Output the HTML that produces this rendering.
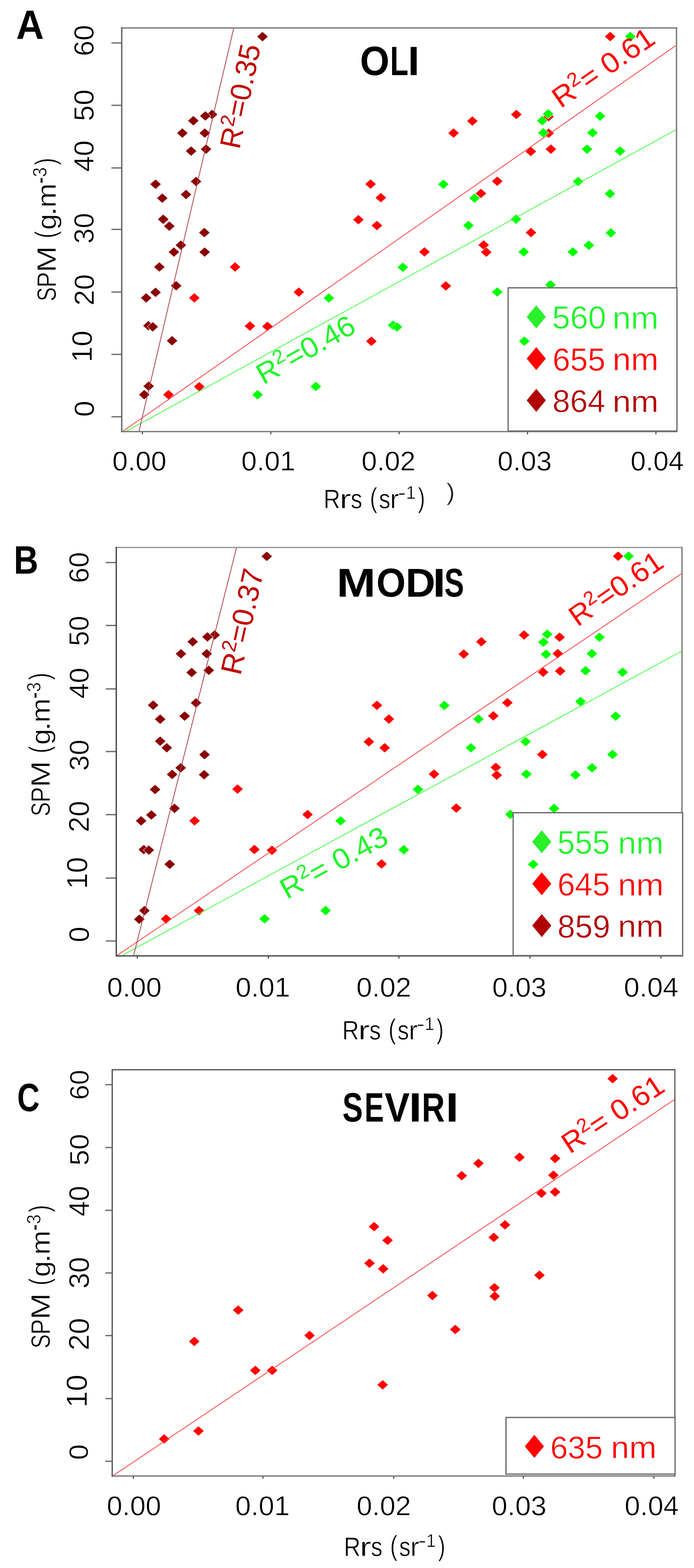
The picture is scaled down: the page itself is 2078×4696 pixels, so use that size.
<!DOCTYPE html>
<html><head><meta charset="utf-8"><title>SPM vs Rrs</title>
<style>html,body{margin:0;padding:0;background:#fff;}svg{display:block;}text{font-family:"Liberation Sans",Arial,sans-serif;}</style>
</head><body>
<svg width="2078" height="4696" viewBox="0 0 2078 4696">
<rect width="2078" height="4696" fill="#fff"/>
<line x1="333.5" y1="128.6" x2="364.5" y2="128.6" stroke="#6e6e6e" stroke-width="3.9"/><line x1="333.5" y1="315.4" x2="364.5" y2="315.4" stroke="#6e6e6e" stroke-width="3.9"/><line x1="333.5" y1="503" x2="364.5" y2="503" stroke="#6e6e6e" stroke-width="3.9"/><line x1="333.5" y1="687" x2="364.5" y2="687" stroke="#6e6e6e" stroke-width="3.9"/><line x1="333.5" y1="874.6" x2="364.5" y2="874.6" stroke="#6e6e6e" stroke-width="3.9"/><line x1="333.5" y1="1061.4" x2="364.5" y2="1061.4" stroke="#6e6e6e" stroke-width="3.9"/><line x1="333.5" y1="1248.2" x2="364.5" y2="1248.2" stroke="#6e6e6e" stroke-width="3.9"/><line x1="426.5" y1="1292.6" x2="426.5" y2="1300.6" stroke="#333" stroke-width="3"/><line x1="811" y1="1292.6" x2="811" y2="1300.6" stroke="#333" stroke-width="3"/><line x1="1195" y1="1292.6" x2="1195" y2="1300.6" stroke="#333" stroke-width="3"/><line x1="1579.5" y1="1292.6" x2="1579.5" y2="1300.6" stroke="#333" stroke-width="3"/><line x1="1964" y1="1292.6" x2="1964" y2="1300.6" stroke="#333" stroke-width="3"/>
<path d="M1827 94.5L1843.7 109.4L1827 124.3L1810.3 109.4Z" fill="#ff0000" stroke="#fff" stroke-width="1.1"/><path d="M1358 383.6L1374.7 398.5L1358 413.4L1341.3 398.5Z" fill="#ff0000" stroke="#fff" stroke-width="1.1"/><path d="M1414.4 347.6L1431.1 362.5L1414.4 377.4L1397.7 362.5Z" fill="#ff0000" stroke="#fff" stroke-width="1.1"/><path d="M1546 327.9L1562.7 342.8L1546 357.7L1529.3 342.8Z" fill="#ff0000" stroke="#fff" stroke-width="1.1"/><path d="M1642.5 334.5L1659.2 349.4L1642.5 364.3L1625.8 349.4Z" fill="#ff0000" stroke="#fff" stroke-width="1.1"/><path d="M1642.7 384L1659.4 398.9L1642.7 413.8L1626 398.9Z" fill="#ff0000" stroke="#fff" stroke-width="1.1"/><path d="M1589.5 438.8L1606.2 453.7L1589.5 468.6L1572.8 453.7Z" fill="#ff0000" stroke="#fff" stroke-width="1.1"/><path d="M1649.5 431.8L1666.2 446.7L1649.5 461.6L1632.8 446.7Z" fill="#ff0000" stroke="#fff" stroke-width="1.1"/><path d="M1489 527.8L1505.7 542.7L1489 557.6L1472.3 542.7Z" fill="#ff0000" stroke="#fff" stroke-width="1.1"/><path d="M1440 564.4L1456.7 579.3L1440 594.2L1423.3 579.3Z" fill="#ff0000" stroke="#fff" stroke-width="1.1"/><path d="M1109.6 536.4L1126.3 551.3L1109.6 566.2L1092.9 551.3Z" fill="#ff0000" stroke="#fff" stroke-width="1.1"/><path d="M1140.3 577.2L1157 592.1L1140.3 607L1123.6 592.1Z" fill="#ff0000" stroke="#fff" stroke-width="1.1"/><path d="M1073.2 643L1089.9 657.9L1073.2 672.8L1056.5 657.9Z" fill="#ff0000" stroke="#fff" stroke-width="1.1"/><path d="M1128.5 660.5L1145.2 675.4L1128.5 690.3L1111.8 675.4Z" fill="#ff0000" stroke="#fff" stroke-width="1.1"/><path d="M1271 739.5L1287.7 754.4L1271 769.3L1254.3 754.4Z" fill="#ff0000" stroke="#fff" stroke-width="1.1"/><path d="M1334.8 841.4L1351.5 856.3L1334.8 871.2L1318.1 856.3Z" fill="#ff0000" stroke="#fff" stroke-width="1.1"/><path d="M894.7 860.1L911.4 875L894.7 889.9L878 875Z" fill="#ff0000" stroke="#fff" stroke-width="1.1"/><path d="M1589.9 681.6L1606.6 696.5L1589.9 711.4L1573.2 696.5Z" fill="#ff0000" stroke="#fff" stroke-width="1.1"/><path d="M1448.2 718.9L1464.9 733.8L1448.2 748.7L1431.5 733.8Z" fill="#ff0000" stroke="#fff" stroke-width="1.1"/><path d="M1456.1 740.4L1472.8 755.3L1456.1 770.2L1439.4 755.3Z" fill="#ff0000" stroke="#fff" stroke-width="1.1"/><path d="M703.9 784.7L720.6 799.6L703.9 814.5L687.2 799.6Z" fill="#ff0000" stroke="#fff" stroke-width="1.1"/><path d="M582 877.3L598.7 892.2L582 907.1L565.3 892.2Z" fill="#ff0000" stroke="#fff" stroke-width="1.1"/><path d="M748.4 961.7L765.1 976.6L748.4 991.5L731.7 976.6Z" fill="#ff0000" stroke="#fff" stroke-width="1.1"/><path d="M800.8 962.5L817.5 977.4L800.8 992.3L784.1 977.4Z" fill="#ff0000" stroke="#fff" stroke-width="1.1"/><path d="M1112 1007.1L1128.7 1022L1112 1036.9L1095.3 1022Z" fill="#ff0000" stroke="#fff" stroke-width="1.1"/><path d="M596.5 1143L613.2 1157.9L596.5 1172.8L579.8 1157.9Z" fill="#ff0000" stroke="#fff" stroke-width="1.1"/><path d="M504.4 1167.1L521.1 1182L504.4 1196.9L487.7 1182Z" fill="#ff0000" stroke="#fff" stroke-width="1.1"/><path d="M1887.2 94.5L1903.9 109.4L1887.2 124.3L1870.5 109.4Z" fill="#00ff00" stroke="#fff" stroke-width="1.1"/><path d="M1641.4 326.3L1658.1 341.2L1641.4 356.1L1624.7 341.2Z" fill="#00ff00" stroke="#fff" stroke-width="1.1"/><path d="M1623.5 346.7L1640.2 361.6L1623.5 376.5L1606.8 361.6Z" fill="#00ff00" stroke="#fff" stroke-width="1.1"/><path d="M1626.7 382.7L1643.4 397.6L1626.7 412.5L1610 397.6Z" fill="#00ff00" stroke="#fff" stroke-width="1.1"/><path d="M1796.8 333.1L1813.5 348L1796.8 362.9L1780.1 348Z" fill="#00ff00" stroke="#fff" stroke-width="1.1"/><path d="M1774.1 382.7L1790.8 397.6L1774.1 412.5L1757.4 397.6Z" fill="#00ff00" stroke="#fff" stroke-width="1.1"/><path d="M1757.9 431.8L1774.6 446.7L1757.9 461.6L1741.2 446.7Z" fill="#00ff00" stroke="#fff" stroke-width="1.1"/><path d="M1856.5 437.5L1873.2 452.4L1856.5 467.3L1839.8 452.4Z" fill="#00ff00" stroke="#fff" stroke-width="1.1"/><path d="M1731 528.6L1747.7 543.5L1731 558.4L1714.3 543.5Z" fill="#00ff00" stroke="#fff" stroke-width="1.1"/><path d="M1826.3 565.1L1843 580L1826.3 594.9L1809.6 580Z" fill="#00ff00" stroke="#fff" stroke-width="1.1"/><path d="M1327.6 536.9L1344.3 551.8L1327.6 566.7L1310.9 551.8Z" fill="#00ff00" stroke="#fff" stroke-width="1.1"/><path d="M1421 578.5L1437.7 593.4L1421 608.3L1404.3 593.4Z" fill="#00ff00" stroke="#fff" stroke-width="1.1"/><path d="M1402.6 660.5L1419.3 675.4L1402.6 690.3L1385.9 675.4Z" fill="#00ff00" stroke="#fff" stroke-width="1.1"/><path d="M1545.1 641.7L1561.8 656.6L1545.1 671.5L1528.4 656.6Z" fill="#00ff00" stroke="#fff" stroke-width="1.1"/><path d="M1828.9 682.5L1845.6 697.4L1828.9 712.3L1812.2 697.4Z" fill="#00ff00" stroke="#fff" stroke-width="1.1"/><path d="M1568 739.5L1584.7 754.4L1568 769.3L1551.3 754.4Z" fill="#00ff00" stroke="#fff" stroke-width="1.1"/><path d="M1763.1 719.7L1779.8 734.6L1763.1 749.5L1746.4 734.6Z" fill="#00ff00" stroke="#fff" stroke-width="1.1"/><path d="M1714.9 739.5L1731.6 754.4L1714.9 769.3L1698.2 754.4Z" fill="#00ff00" stroke="#fff" stroke-width="1.1"/><path d="M1206.1 785.6L1222.8 800.5L1206.1 815.4L1189.4 800.5Z" fill="#00ff00" stroke="#fff" stroke-width="1.1"/><path d="M1489 859.5L1505.7 874.4L1489 889.3L1472.3 874.4Z" fill="#00ff00" stroke="#fff" stroke-width="1.1"/><path d="M984.6 877.6L1001.3 892.5L984.6 907.4L967.9 892.5Z" fill="#00ff00" stroke="#fff" stroke-width="1.1"/><path d="M1177 959.1L1193.7 974L1177 988.9L1160.3 974Z" fill="#00ff00" stroke="#fff" stroke-width="1.1"/><path d="M1188.8 964.4L1205.5 979.3L1188.8 994.2L1172.1 979.3Z" fill="#00ff00" stroke="#fff" stroke-width="1.1"/><path d="M945.6 1142.5L962.3 1157.4L945.6 1172.3L928.9 1157.4Z" fill="#00ff00" stroke="#fff" stroke-width="1.1"/><path d="M771.1 1167.4L787.8 1182.3L771.1 1197.2L754.4 1182.3Z" fill="#00ff00" stroke="#fff" stroke-width="1.1"/><path d="M1648.2 838.2L1664.9 853.1L1648.2 868L1631.5 853.1Z" fill="#00ff00" stroke="#fff" stroke-width="1.1"/><path d="M786 94.8L802.7 109.7L786 124.6L769.3 109.7Z" fill="#8b0000" stroke="#fff" stroke-width="1.1"/><path d="M635.1 327.9L651.8 342.8L635.1 357.7L618.4 342.8Z" fill="#8b0000" stroke="#fff" stroke-width="1.1"/><path d="M614.9 332.3L631.6 347.2L614.9 362.1L598.2 347.2Z" fill="#8b0000" stroke="#fff" stroke-width="1.1"/><path d="M578.9 346.7L595.6 361.6L578.9 376.5L562.2 361.6Z" fill="#8b0000" stroke="#fff" stroke-width="1.1"/><path d="M546 383.6L562.7 398.5L546 413.4L529.3 398.5Z" fill="#8b0000" stroke="#fff" stroke-width="1.1"/><path d="M613.1 383.6L629.8 398.5L613.1 413.4L596.4 398.5Z" fill="#8b0000" stroke="#fff" stroke-width="1.1"/><path d="M572.3 437.5L589 452.4L572.3 467.3L555.6 452.4Z" fill="#8b0000" stroke="#fff" stroke-width="1.1"/><path d="M617 431.8L633.7 446.7L617 461.6L600.3 446.7Z" fill="#8b0000" stroke="#fff" stroke-width="1.1"/><path d="M587 528.6L603.7 543.5L587 558.4L570.3 543.5Z" fill="#8b0000" stroke="#fff" stroke-width="1.1"/><path d="M465.8 536.8L482.5 551.7L465.8 566.6L449.1 551.7Z" fill="#8b0000" stroke="#fff" stroke-width="1.1"/><path d="M485.9 578.6L502.6 593.5L485.9 608.4L469.2 593.5Z" fill="#8b0000" stroke="#fff" stroke-width="1.1"/><path d="M557 567.6L573.7 582.5L557 597.4L540.3 582.5Z" fill="#8b0000" stroke="#fff" stroke-width="1.1"/><path d="M488.6 641.8L505.3 656.7L488.6 671.6L471.9 656.7Z" fill="#8b0000" stroke="#fff" stroke-width="1.1"/><path d="M507 662.4L523.7 677.3L507 692.2L490.3 677.3Z" fill="#8b0000" stroke="#fff" stroke-width="1.1"/><path d="M611.8 681.7L628.5 696.6L611.8 711.5L595.1 696.6Z" fill="#8b0000" stroke="#fff" stroke-width="1.1"/><path d="M541.6 719.4L558.3 734.3L541.6 749.2L524.9 734.3Z" fill="#8b0000" stroke="#fff" stroke-width="1.1"/><path d="M520.6 740L537.3 754.9L520.6 769.8L503.9 754.9Z" fill="#8b0000" stroke="#fff" stroke-width="1.1"/><path d="M612.7 740L629.4 754.9L612.7 769.8L596 754.9Z" fill="#8b0000" stroke="#fff" stroke-width="1.1"/><path d="M477.2 784.7L493.9 799.6L477.2 814.5L460.5 799.6Z" fill="#8b0000" stroke="#fff" stroke-width="1.1"/><path d="M527.6 840.9L544.3 855.8L527.6 870.7L510.9 855.8Z" fill="#8b0000" stroke="#fff" stroke-width="1.1"/><path d="M465.8 860.6L482.5 875.5L465.8 890.4L449.1 875.5Z" fill="#8b0000" stroke="#fff" stroke-width="1.1"/><path d="M437.7 877.3L454.4 892.2L437.7 907.1L421 892.2Z" fill="#8b0000" stroke="#fff" stroke-width="1.1"/><path d="M444.3 960.6L461 975.5L444.3 990.4L427.6 975.5Z" fill="#8b0000" stroke="#fff" stroke-width="1.1"/><path d="M457.4 963.8L474.1 978.7L457.4 993.6L440.7 978.7Z" fill="#8b0000" stroke="#fff" stroke-width="1.1"/><path d="M515.3 1005.6L532 1020.5L515.3 1035.4L498.6 1020.5Z" fill="#8b0000" stroke="#fff" stroke-width="1.1"/><path d="M445.1 1141.7L461.8 1156.6L445.1 1171.5L428.4 1156.6Z" fill="#8b0000" stroke="#fff" stroke-width="1.1"/><path d="M432 1167.1L448.7 1182L432 1196.9L415.3 1182Z" fill="#8b0000" stroke="#fff" stroke-width="1.1"/>
<line x1="365.8" y1="1293.2" x2="2025.4" y2="135.3" stroke="#ff4040" stroke-width="2.3"/>
<line x1="372.6" y1="1294.7" x2="2025.4" y2="388" stroke="#40ff40" stroke-width="2.3"/>
<line x1="415.8" y1="1293.2" x2="700" y2="83.7" stroke="#b03a48" stroke-width="2.3"/>
<line x1="364.5" y1="83.8" x2="2025.6" y2="83.8" stroke="#7a7a7a" stroke-width="3.9" stroke-linecap="square"/>
<line x1="2025.6" y1="83.8" x2="2025.6" y2="1292.6" stroke="#747474" stroke-width="3.9" stroke-linecap="square"/>
<line x1="364.5" y1="1292.6" x2="2025.6" y2="1292.6" stroke="#747474" stroke-width="3.9" stroke-linecap="square"/>
<line x1="364.5" y1="83.8" x2="364.5" y2="1292.6" stroke="#5e5e5e" stroke-width="3.9" stroke-linecap="square"/>
<rect x="1521.5" y="862" width="505.5" height="429" fill="#fff" stroke="#6e6e6e" stroke-width="3.9"/>
<line x1="316.7" y1="1684.7" x2="348.2" y2="1684.7" stroke="#6e6e6e" stroke-width="3.9"/><line x1="316.7" y1="1873.2" x2="348.2" y2="1873.2" stroke="#6e6e6e" stroke-width="3.9"/><line x1="316.7" y1="2063.3" x2="348.2" y2="2063.3" stroke="#6e6e6e" stroke-width="3.9"/><line x1="316.7" y1="2250.8" x2="348.2" y2="2250.8" stroke="#6e6e6e" stroke-width="3.9"/><line x1="316.7" y1="2439.7" x2="348.2" y2="2439.7" stroke="#6e6e6e" stroke-width="3.9"/><line x1="316.7" y1="2629.7" x2="348.2" y2="2629.7" stroke="#6e6e6e" stroke-width="3.9"/><line x1="316.7" y1="2818.1" x2="348.2" y2="2818.1" stroke="#6e6e6e" stroke-width="3.9"/><line x1="411" y1="2862.8" x2="411" y2="2870.8" stroke="#333" stroke-width="3"/><line x1="803.5" y1="2862.8" x2="803.5" y2="2870.8" stroke="#333" stroke-width="3"/><line x1="1194.5" y1="2862.8" x2="1194.5" y2="2870.8" stroke="#333" stroke-width="3"/><line x1="1587" y1="2862.8" x2="1587" y2="2870.8" stroke="#333" stroke-width="3"/><line x1="1979" y1="2862.8" x2="1979" y2="2870.8" stroke="#333" stroke-width="3"/>
<path d="M1850.8 1650.9L1867.5 1665.8L1850.8 1680.7L1834.1 1665.8Z" fill="#ff0000" stroke="#fff" stroke-width="1.1"/><path d="M1675.4 1893.4L1692.1 1908.3L1675.4 1923.2L1658.7 1908.3Z" fill="#ff0000" stroke="#fff" stroke-width="1.1"/><path d="M1670.1 1942.6L1686.8 1957.5L1670.1 1972.4L1653.4 1957.5Z" fill="#ff0000" stroke="#fff" stroke-width="1.1"/><path d="M1626.3 1998.3L1643 2013.2L1626.3 2028.1L1609.6 2013.2Z" fill="#ff0000" stroke="#fff" stroke-width="1.1"/><path d="M1677.3 1994.9L1694 2009.8L1677.3 2024.7L1660.6 2009.8Z" fill="#ff0000" stroke="#fff" stroke-width="1.1"/><path d="M1569.3 1886.9L1586 1901.8L1569.3 1916.7L1552.6 1901.8Z" fill="#ff0000" stroke="#fff" stroke-width="1.1"/><path d="M1441.2 1907.1L1457.9 1922L1441.2 1936.9L1424.5 1922Z" fill="#ff0000" stroke="#fff" stroke-width="1.1"/><path d="M1388.6 1944L1405.3 1958.9L1388.6 1973.8L1371.9 1958.9Z" fill="#ff0000" stroke="#fff" stroke-width="1.1"/><path d="M1128.6 2097.5L1145.3 2112.4L1128.6 2127.3L1111.9 2112.4Z" fill="#ff0000" stroke="#fff" stroke-width="1.1"/><path d="M1519.3 2089.7L1536 2104.6L1519.3 2119.5L1502.6 2104.6Z" fill="#ff0000" stroke="#fff" stroke-width="1.1"/><path d="M1477.2 2129L1493.9 2143.9L1477.2 2158.8L1460.5 2143.9Z" fill="#ff0000" stroke="#fff" stroke-width="1.1"/><path d="M1164.5 2138.6L1181.2 2153.5L1164.5 2168.4L1147.8 2153.5Z" fill="#ff0000" stroke="#fff" stroke-width="1.1"/><path d="M1104.5 2206.6L1121.2 2221.5L1104.5 2236.4L1087.8 2221.5Z" fill="#ff0000" stroke="#fff" stroke-width="1.1"/><path d="M1151.8 2224.6L1168.5 2239.5L1151.8 2254.4L1135.1 2239.5Z" fill="#ff0000" stroke="#fff" stroke-width="1.1"/><path d="M1299.6 2303.5L1316.3 2318.4L1299.6 2333.3L1282.9 2318.4Z" fill="#ff0000" stroke="#fff" stroke-width="1.1"/><path d="M1484.6 2283.3L1501.3 2298.2L1484.6 2313.1L1467.9 2298.2Z" fill="#ff0000" stroke="#fff" stroke-width="1.1"/><path d="M1487.3 2306.6L1504 2321.5L1487.3 2336.4L1470.6 2321.5Z" fill="#ff0000" stroke="#fff" stroke-width="1.1"/><path d="M1366.2 2405.3L1382.9 2420.2L1366.2 2435.1L1349.5 2420.2Z" fill="#ff0000" stroke="#fff" stroke-width="1.1"/><path d="M1142.5 2572.6L1159.2 2587.5L1142.5 2602.4L1125.8 2587.5Z" fill="#ff0000" stroke="#fff" stroke-width="1.1"/><path d="M1624 2244.7L1640.7 2259.6L1624 2274.5L1607.3 2259.6Z" fill="#ff0000" stroke="#fff" stroke-width="1.1"/><path d="M711.2 2348.3L727.9 2363.2L711.2 2378.1L694.5 2363.2Z" fill="#ff0000" stroke="#fff" stroke-width="1.1"/><path d="M582.6 2443.4L599.3 2458.3L582.6 2473.2L565.9 2458.3Z" fill="#ff0000" stroke="#fff" stroke-width="1.1"/><path d="M761.7 2529.2L778.4 2544.1L761.7 2559L745 2544.1Z" fill="#ff0000" stroke="#fff" stroke-width="1.1"/><path d="M814.4 2531.5L831.1 2546.4L814.4 2561.3L797.7 2546.4Z" fill="#ff0000" stroke="#fff" stroke-width="1.1"/><path d="M497.4 2737.3L514.1 2752.2L497.4 2767.1L480.7 2752.2Z" fill="#ff0000" stroke="#fff" stroke-width="1.1"/><path d="M596 2712.3L612.7 2727.2L596 2742.1L579.3 2727.2Z" fill="#ff0000" stroke="#fff" stroke-width="1.1"/><path d="M921 2424.6L937.7 2439.5L921 2454.4L904.3 2439.5Z" fill="#ff0000" stroke="#fff" stroke-width="1.1"/><path d="M1882 1650.9L1898.7 1665.8L1882 1680.7L1865.3 1665.8Z" fill="#00ff00" stroke="#fff" stroke-width="1.1"/><path d="M1638.5 1884.7L1655.2 1899.6L1638.5 1914.5L1621.8 1899.6Z" fill="#00ff00" stroke="#fff" stroke-width="1.1"/><path d="M1627.1 1908.3L1643.8 1923.2L1627.1 1938.1L1610.4 1923.2Z" fill="#00ff00" stroke="#fff" stroke-width="1.1"/><path d="M1635 1944.7L1651.7 1959.6L1635 1974.5L1618.3 1959.6Z" fill="#00ff00" stroke="#fff" stroke-width="1.1"/><path d="M1795.1 1893.4L1811.8 1908.3L1795.1 1923.2L1778.4 1908.3Z" fill="#00ff00" stroke="#fff" stroke-width="1.1"/><path d="M1772.3 1942.6L1789 1957.5L1772.3 1972.4L1755.6 1957.5Z" fill="#00ff00" stroke="#fff" stroke-width="1.1"/><path d="M1753.2 1993.8L1769.9 2008.7L1753.2 2023.6L1736.5 2008.7Z" fill="#00ff00" stroke="#fff" stroke-width="1.1"/><path d="M1864.1 1998.3L1880.8 2013.2L1864.1 2028.1L1847.4 2013.2Z" fill="#00ff00" stroke="#fff" stroke-width="1.1"/><path d="M1738.1 2085.9L1754.8 2100.8L1738.1 2115.7L1721.4 2100.8Z" fill="#00ff00" stroke="#fff" stroke-width="1.1"/><path d="M1843.4 2130L1860.1 2144.9L1843.4 2159.8L1826.7 2144.9Z" fill="#00ff00" stroke="#fff" stroke-width="1.1"/><path d="M1330.4 2097.9L1347.1 2112.8L1330.4 2127.7L1313.7 2112.8Z" fill="#00ff00" stroke="#fff" stroke-width="1.1"/><path d="M1432.5 2138.6L1449.2 2153.5L1432.5 2168.4L1415.8 2153.5Z" fill="#00ff00" stroke="#fff" stroke-width="1.1"/><path d="M1410.1 2224.6L1426.8 2239.5L1410.1 2254.4L1393.4 2239.5Z" fill="#00ff00" stroke="#fff" stroke-width="1.1"/><path d="M1573.8 2206L1590.5 2220.9L1573.8 2235.8L1557.1 2220.9Z" fill="#00ff00" stroke="#fff" stroke-width="1.1"/><path d="M1834 2244.7L1850.7 2259.6L1834 2274.5L1817.3 2259.6Z" fill="#00ff00" stroke="#fff" stroke-width="1.1"/><path d="M1576.1 2303.5L1592.8 2318.4L1576.1 2333.3L1559.4 2318.4Z" fill="#00ff00" stroke="#fff" stroke-width="1.1"/><path d="M1772.7 2284.8L1789.4 2299.7L1772.7 2314.6L1756 2299.7Z" fill="#00ff00" stroke="#fff" stroke-width="1.1"/><path d="M1723.1 2306L1739.8 2320.9L1723.1 2335.8L1706.4 2320.9Z" fill="#00ff00" stroke="#fff" stroke-width="1.1"/><path d="M1251.3 2349.1L1268 2364L1251.3 2378.9L1234.6 2364Z" fill="#00ff00" stroke="#fff" stroke-width="1.1"/><path d="M1019.7 2443.4L1036.4 2458.3L1019.7 2473.2L1003 2458.3Z" fill="#00ff00" stroke="#fff" stroke-width="1.1"/><path d="M1209 2530.1L1225.7 2545L1209 2559.9L1192.3 2545Z" fill="#00ff00" stroke="#fff" stroke-width="1.1"/><path d="M975 2712.1L991.7 2727L975 2741.9L958.3 2727Z" fill="#00ff00" stroke="#fff" stroke-width="1.1"/><path d="M792.1 2736.8L808.8 2751.7L792.1 2766.6L775.4 2751.7Z" fill="#00ff00" stroke="#fff" stroke-width="1.1"/><path d="M1528.2 2424.1L1544.9 2439L1528.2 2453.9L1511.5 2439Z" fill="#00ff00" stroke="#fff" stroke-width="1.1"/><path d="M1659 2406.4L1675.7 2421.3L1659 2436.2L1642.3 2421.3Z" fill="#00ff00" stroke="#fff" stroke-width="1.1"/><path d="M798.8 1651.3L815.5 1666.2L798.8 1681.1L782.1 1666.2Z" fill="#8b0000" stroke="#fff" stroke-width="1.1"/><path d="M642.7 1886.9L659.4 1901.8L642.7 1916.7L626 1901.8Z" fill="#8b0000" stroke="#fff" stroke-width="1.1"/><path d="M621.2 1892.6L637.9 1907.5L621.2 1922.4L604.5 1907.5Z" fill="#8b0000" stroke="#fff" stroke-width="1.1"/><path d="M577 1907.1L593.7 1922L577 1936.9L560.3 1922Z" fill="#8b0000" stroke="#fff" stroke-width="1.1"/><path d="M541.9 1943.1L558.6 1958L541.9 1972.9L525.2 1958Z" fill="#8b0000" stroke="#fff" stroke-width="1.1"/><path d="M619 1943.1L635.7 1958L619 1972.9L602.3 1958Z" fill="#8b0000" stroke="#fff" stroke-width="1.1"/><path d="M573.9 1999.2L590.6 2014.1L573.9 2029L557.2 2014.1Z" fill="#8b0000" stroke="#fff" stroke-width="1.1"/><path d="M625.2 1992.6L641.9 2007.5L625.2 2022.4L608.5 2007.5Z" fill="#8b0000" stroke="#fff" stroke-width="1.1"/><path d="M587 2090.1L603.7 2105L587 2119.9L570.3 2105Z" fill="#8b0000" stroke="#fff" stroke-width="1.1"/><path d="M458.5 2097L475.2 2111.9L458.5 2126.8L441.8 2111.9Z" fill="#8b0000" stroke="#fff" stroke-width="1.1"/><path d="M479.6 2139L496.3 2153.9L479.6 2168.8L462.9 2153.9Z" fill="#8b0000" stroke="#fff" stroke-width="1.1"/><path d="M552.8 2129.8L569.5 2144.7L552.8 2159.6L536.1 2144.7Z" fill="#8b0000" stroke="#fff" stroke-width="1.1"/><path d="M479.6 2204.8L496.3 2219.7L479.6 2234.6L462.9 2219.7Z" fill="#8b0000" stroke="#fff" stroke-width="1.1"/><path d="M499.3 2224.6L516 2239.5L499.3 2254.4L482.6 2239.5Z" fill="#8b0000" stroke="#fff" stroke-width="1.1"/><path d="M612.5 2245.2L629.2 2260.1L612.5 2275L595.8 2260.1Z" fill="#8b0000" stroke="#fff" stroke-width="1.1"/><path d="M541 2284.7L557.7 2299.6L541 2314.5L524.3 2299.6Z" fill="#8b0000" stroke="#fff" stroke-width="1.1"/><path d="M515.5 2304.4L532.2 2319.3L515.5 2334.2L498.8 2319.3Z" fill="#8b0000" stroke="#fff" stroke-width="1.1"/><path d="M611.2 2305.3L627.9 2320.2L611.2 2335.1L594.5 2320.2Z" fill="#8b0000" stroke="#fff" stroke-width="1.1"/><path d="M464.2 2349.6L480.9 2364.5L464.2 2379.4L447.5 2364.5Z" fill="#8b0000" stroke="#fff" stroke-width="1.1"/><path d="M522.6 2406.1L539.3 2421L522.6 2435.9L505.9 2421Z" fill="#8b0000" stroke="#fff" stroke-width="1.1"/><path d="M453.3 2425.9L470 2440.8L453.3 2455.7L436.6 2440.8Z" fill="#8b0000" stroke="#fff" stroke-width="1.1"/><path d="M422.6 2443.4L439.3 2458.3L422.6 2473.2L405.9 2458.3Z" fill="#8b0000" stroke="#fff" stroke-width="1.1"/><path d="M430.5 2529.6L447.2 2544.5L430.5 2559.4L413.8 2544.5Z" fill="#8b0000" stroke="#fff" stroke-width="1.1"/><path d="M445.5 2531.1L462.2 2546L445.5 2560.9L428.8 2546Z" fill="#8b0000" stroke="#fff" stroke-width="1.1"/><path d="M508.2 2573.4L524.9 2588.3L508.2 2603.2L491.5 2588.3Z" fill="#8b0000" stroke="#fff" stroke-width="1.1"/><path d="M432.5 2712.3L449.2 2727.2L432.5 2742.1L415.8 2727.2Z" fill="#8b0000" stroke="#fff" stroke-width="1.1"/><path d="M417.1 2738.2L433.8 2753.1L417.1 2768L400.4 2753.1Z" fill="#8b0000" stroke="#fff" stroke-width="1.1"/>
<line x1="348.2" y1="2863.2" x2="2042" y2="1717.1" stroke="#ff4040" stroke-width="2.3"/>
<line x1="362.3" y1="2863.2" x2="2042" y2="1949.6" stroke="#40ff40" stroke-width="2.3"/>
<line x1="399.6" y1="2863.2" x2="708.4" y2="1639.3" stroke="#b03a48" stroke-width="2.3"/>
<line x1="348.2" y1="1639.6" x2="2042" y2="1639.6" stroke="#959595" stroke-width="3.9" stroke-linecap="square"/>
<line x1="2042" y1="1639.6" x2="2042" y2="2862.8" stroke="#7a7a7a" stroke-width="3.9" stroke-linecap="square"/>
<line x1="348.2" y1="2862.8" x2="2042" y2="2862.8" stroke="#4c4c4c" stroke-width="3.9" stroke-linecap="square"/>
<line x1="348.2" y1="1639.6" x2="348.2" y2="2862.8" stroke="#444444" stroke-width="3.9" stroke-linecap="square"/>
<rect x="1536.5" y="2434" width="507.5" height="427.8" fill="#fff" stroke="#6e6e6e" stroke-width="3.9"/>
<line x1="315.5" y1="3248.4" x2="336" y2="3248.4" stroke="#6e6e6e" stroke-width="3.9"/><line x1="315.5" y1="3436.8" x2="336" y2="3436.8" stroke="#6e6e6e" stroke-width="3.9"/><line x1="315.5" y1="3624.8" x2="336" y2="3624.8" stroke="#6e6e6e" stroke-width="3.9"/><line x1="315.5" y1="3812.4" x2="336" y2="3812.4" stroke="#6e6e6e" stroke-width="3.9"/><line x1="315.5" y1="4000" x2="336" y2="4000" stroke="#6e6e6e" stroke-width="3.9"/><line x1="315.5" y1="4188.6" x2="336" y2="4188.6" stroke="#6e6e6e" stroke-width="3.9"/><line x1="315.5" y1="4376.3" x2="336" y2="4376.3" stroke="#6e6e6e" stroke-width="3.9"/><line x1="399.3" y1="4420.5" x2="399.3" y2="4428.5" stroke="#333" stroke-width="3"/><line x1="787.2" y1="4420.5" x2="787.2" y2="4428.5" stroke="#333" stroke-width="3"/><line x1="1178.9" y1="4420.5" x2="1178.9" y2="4428.5" stroke="#333" stroke-width="3"/><line x1="1567" y1="4420.5" x2="1567" y2="4428.5" stroke="#333" stroke-width="3"/><line x1="1958" y1="4420.5" x2="1958" y2="4428.5" stroke="#333" stroke-width="3"/>
<path d="M1834.3 3215.6L1851 3230.5L1834.3 3245.4L1817.6 3230.5Z" fill="#ff0000" stroke="#fff" stroke-width="1.1"/><path d="M1555.4 3450.9L1572.1 3465.8L1555.4 3480.7L1538.7 3465.8Z" fill="#ff0000" stroke="#fff" stroke-width="1.1"/><path d="M1662.2 3454.6L1678.9 3469.5L1662.2 3484.4L1645.5 3469.5Z" fill="#ff0000" stroke="#fff" stroke-width="1.1"/><path d="M1657 3504.6L1673.7 3519.5L1657 3534.4L1640.3 3519.5Z" fill="#ff0000" stroke="#fff" stroke-width="1.1"/><path d="M1621.2 3558.8L1637.9 3573.7L1621.2 3588.6L1604.5 3573.7Z" fill="#ff0000" stroke="#fff" stroke-width="1.1"/><path d="M1662.2 3555.1L1678.9 3570L1662.2 3584.9L1645.5 3570Z" fill="#ff0000" stroke="#fff" stroke-width="1.1"/><path d="M1512 3653.4L1528.7 3668.3L1512 3683.2L1495.3 3668.3Z" fill="#ff0000" stroke="#fff" stroke-width="1.1"/><path d="M1478.5 3690.9L1495.2 3705.8L1478.5 3720.7L1461.8 3705.8Z" fill="#ff0000" stroke="#fff" stroke-width="1.1"/><path d="M1432.6 3469.3L1449.3 3484.2L1432.6 3499.1L1415.9 3484.2Z" fill="#ff0000" stroke="#fff" stroke-width="1.1"/><path d="M1382.6 3506.2L1399.3 3521.1L1382.6 3536L1365.9 3521.1Z" fill="#ff0000" stroke="#fff" stroke-width="1.1"/><path d="M1120 3658.8L1136.7 3673.7L1120 3688.6L1103.3 3673.7Z" fill="#ff0000" stroke="#fff" stroke-width="1.1"/><path d="M1160.5 3699.8L1177.2 3714.7L1160.5 3729.6L1143.8 3714.7Z" fill="#ff0000" stroke="#fff" stroke-width="1.1"/><path d="M1106.3 3768.3L1123 3783.2L1106.3 3798.1L1089.6 3783.2Z" fill="#ff0000" stroke="#fff" stroke-width="1.1"/><path d="M1147.4 3785.1L1164.1 3800L1147.4 3814.9L1130.7 3800Z" fill="#ff0000" stroke="#fff" stroke-width="1.1"/><path d="M1294.7 3865.1L1311.4 3880L1294.7 3894.9L1278 3880Z" fill="#ff0000" stroke="#fff" stroke-width="1.1"/><path d="M1480.3 3841.8L1497 3856.7L1480.3 3871.6L1463.6 3856.7Z" fill="#ff0000" stroke="#fff" stroke-width="1.1"/><path d="M1481.5 3867.1L1498.2 3882L1481.5 3896.9L1464.8 3882Z" fill="#ff0000" stroke="#fff" stroke-width="1.1"/><path d="M1363.2 3966.7L1379.9 3981.6L1363.2 3996.5L1346.5 3981.6Z" fill="#ff0000" stroke="#fff" stroke-width="1.1"/><path d="M1615.3 3804.2L1632 3819.1L1615.3 3834L1598.6 3819.1Z" fill="#ff0000" stroke="#fff" stroke-width="1.1"/><path d="M926.8 3984.6L943.5 3999.5L926.8 4014.4L910.1 3999.5Z" fill="#ff0000" stroke="#fff" stroke-width="1.1"/><path d="M713.3 3908.8L730 3923.7L713.3 3938.6L696.6 3923.7Z" fill="#ff0000" stroke="#fff" stroke-width="1.1"/><path d="M581.7 4002.5L598.4 4017.4L581.7 4032.3L565 4017.4Z" fill="#ff0000" stroke="#fff" stroke-width="1.1"/><path d="M764.4 4089.3L781.1 4104.2L764.4 4119.1L747.7 4104.2Z" fill="#ff0000" stroke="#fff" stroke-width="1.1"/><path d="M814.9 4089.3L831.6 4104.2L814.9 4119.1L798.2 4104.2Z" fill="#ff0000" stroke="#fff" stroke-width="1.1"/><path d="M1145.8 4132.5L1162.5 4147.4L1145.8 4162.3L1129.1 4147.4Z" fill="#ff0000" stroke="#fff" stroke-width="1.1"/><path d="M594.3 4270.8L611 4285.7L594.3 4300.6L577.6 4285.7Z" fill="#ff0000" stroke="#fff" stroke-width="1.1"/><path d="M491.6 4294.6L508.3 4309.5L491.6 4324.4L474.9 4309.5Z" fill="#ff0000" stroke="#fff" stroke-width="1.1"/>
<line x1="337" y1="4420.5" x2="2021.2" y2="3292.1" stroke="#ff4040" stroke-width="2.3"/>
<line x1="336" y1="3203.7" x2="2020.7" y2="3203.7" stroke="#5e5e5e" stroke-width="3.9" stroke-linecap="square"/>
<line x1="2020.7" y1="3203.7" x2="2020.7" y2="4420.5" stroke="#646464" stroke-width="3.9" stroke-linecap="square"/>
<line x1="336" y1="4420.5" x2="2020.7" y2="4420.5" stroke="#787878" stroke-width="3.9" stroke-linecap="square"/>
<line x1="336" y1="3203.7" x2="336" y2="4420.5" stroke="#585858" stroke-width="3.9" stroke-linecap="square"/>
<rect x="1515" y="4245.2" width="506.3" height="169.6" fill="#fff" stroke="#6e6e6e" stroke-width="3.9"/>
<path d="M1605.7 914.4L1634.3 948.9L1605.7 983.4L1577.1 948.9Z" fill="#2af02a"/>
<path d="M1605.7 1039.6L1634.3 1074.1L1605.7 1108.6L1577.1 1074.1Z" fill="#ff0000"/>
<path d="M1605.7 1164.4L1634.3 1198.9L1605.7 1233.4L1577.1 1198.9Z" fill="#b00000"/>
<path d="M1622.2 2486.4L1650.8 2520.9L1622.2 2555.4L1593.6 2520.9Z" fill="#2af02a"/>
<path d="M1622.2 2612.2L1650.8 2646.7L1622.2 2681.2L1593.6 2646.7Z" fill="#ff0000"/>
<path d="M1622.2 2737.4L1650.8 2771.9L1622.2 2806.4L1593.6 2771.9Z" fill="#b00000"/>
<path d="M1600.1 4297.2L1628.7 4331.7L1600.1 4366.2L1571.5 4331.7Z" fill="#ff0000"/>
<path d="M1570 1006.9L1586.7 1021.8L1570 1036.7L1553.3 1021.8Z" fill="#00ff00" stroke="#fff" stroke-width="1.1"/>
<path d="M1596.3 2573.7L1613 2588.6L1596.3 2603.5L1579.6 2588.6Z" fill="#00ff00" stroke="#fff" stroke-width="1.1"/>
<text transform="translate(51.6,32) scale(1.1530,1.2265) translate(-3.0,69.0)" font-size="100" font-weight="bold" fill="#000000">A</text>
<text transform="translate(48.4,1636.3) scale(1.0180,1.1826) translate(-7.0,69.0)" font-size="100" font-weight="bold" fill="#000000">B</text>
<text transform="translate(55.3,3244.7) scale(0.9308,1.1873) translate(-4.0,70.0)" font-size="100" font-weight="bold" fill="#000000">C</text>
<text transform="translate(1082.5,139.6) scale(1.1314,1.2239) translate(-4.0,70.0)" font-size="100" font-weight="bold" fill="#000000">O</text>
<text transform="translate(1174.2,140.8) scale(0.8980,1.2246) translate(-7.0,69.0)" font-size="100" font-weight="bold" fill="#000000">L</text>
<text transform="translate(1230,140.8) scale(1.2500,1.2246) translate(-7.0,69.0)" font-size="100" font-weight="bold" fill="#000000">I</text>
<text transform="translate(1017.5,1704.3) scale(1.4043,1.2043) translate(-7.0,69.0)" font-size="100" font-weight="bold" fill="#000000">M</text>
<text transform="translate(1131.6,1703.1) scale(1.1271,1.2042) translate(-4.0,70.0)" font-size="100" font-weight="bold" fill="#000000">O</text>
<text transform="translate(1222.8,1704.3) scale(1.2361,1.2043) translate(-7.0,69.0)" font-size="100" font-weight="bold" fill="#000000">D</text>
<text transform="translate(1305.3,1704.3) scale(1.3786,1.2043) translate(-7.0,69.0)" font-size="100" font-weight="bold" fill="#000000">I</text>
<text transform="translate(1333.3,1703.1) scale(0.8783,1.2042) translate(-3.0,70.0)" font-size="100" font-weight="bold" fill="#000000">S</text>
<text transform="translate(1027.9,3274) scale(0.9183,1.2211) translate(-3.0,70.0)" font-size="100" font-weight="bold" fill="#000000">S</text>
<text transform="translate(1097.6,3275.2) scale(0.8696,1.2217) translate(-7.0,69.0)" font-size="100" font-weight="bold" fill="#000000">E</text>
<text transform="translate(1152.8,3275.2) scale(1.1231,1.2217) translate(-1.0,69.0)" font-size="100" font-weight="bold" fill="#000000">V</text>
<text transform="translate(1234,3275.2) scale(1.3857,1.2217) translate(-7.0,69.0)" font-size="100" font-weight="bold" fill="#000000">I</text>
<text transform="translate(1269.7,3275.2) scale(0.9524,1.2217) translate(-7.0,69.0)" font-size="100" font-weight="bold" fill="#000000">R</text>
<text transform="translate(1344.3,3275.2) scale(1.3929,1.2217) translate(-7.0,69.0)" font-size="100" font-weight="bold" fill="#000000">I</text>
<text transform="translate(222.3,163.5) rotate(-90) scale(0.8421,0.8350) translate(-5.588235294117647,69.41176470588235)" font-size="100" fill="#000000" stroke="#fff" stroke-width="1.19" stroke-linejoin="round">60</text>
<text transform="translate(222.3,358.8) rotate(-90) scale(0.8525,0.8350) translate(-4.588235294117647,69.41176470588235)" font-size="100" fill="#000000" stroke="#fff" stroke-width="1.19" stroke-linejoin="round">50</text>
<text transform="translate(222.8,512.3) rotate(-90) scale(0.8447,0.8292) translate(-2.588235294117647,69.41176470588235)" font-size="100" fill="#000000" stroke="#fff" stroke-width="1.19" stroke-linejoin="round">40</text>
<text transform="translate(222.8,726) rotate(-90) scale(0.8269,0.8292) translate(-4.588235294117647,69.41176470588235)" font-size="100" fill="#000000" stroke="#fff" stroke-width="1.21" stroke-linejoin="round">30</text>
<text transform="translate(222.7,910.6) rotate(-90) scale(0.8470,0.8350) translate(-5.588235294117647,69.41176470588235)" font-size="100" fill="#000000" stroke="#fff" stroke-width="1.19" stroke-linejoin="round">20</text>
<text transform="translate(216,1077.6) rotate(-90) scale(0.8546,0.8450) translate(-8.588235294117647,69.41176470588235)" font-size="100" fill="#000000" stroke="#fff" stroke-width="1.18" stroke-linejoin="round">10</text>
<text transform="translate(222.7,1244.5) rotate(-90) scale(0.8714,0.8350) translate(-4.588235294117647,69.41176470588235)" font-size="100" fill="#000000" stroke="#fff" stroke-width="1.17" stroke-linejoin="round">0</text>
<text transform="translate(207.9,1741.6) rotate(-90) scale(0.8351,0.8292) translate(-5.588235294117647,69.41176470588235)" font-size="100" fill="#000000" stroke="#fff" stroke-width="1.20" stroke-linejoin="round">60</text>
<text transform="translate(207.9,1931) rotate(-90) scale(0.8112,0.8292) translate(-4.588235294117647,69.41176470588235)" font-size="100" fill="#000000" stroke="#fff" stroke-width="1.22" stroke-linejoin="round">50</text>
<text transform="translate(208.7,2090.3) rotate(-90) scale(0.8370,0.8106) translate(-2.588235294117647,69.41176470588235)" font-size="100" fill="#000000" stroke="#fff" stroke-width="1.21" stroke-linejoin="round">40</text>
<text transform="translate(208.7,2304.7) rotate(-90) scale(0.8397,0.8106) translate(-4.588235294117647,69.41176470588235)" font-size="100" fill="#000000" stroke="#fff" stroke-width="1.21" stroke-linejoin="round">30</text>
<text transform="translate(207.4,2487.9) rotate(-90) scale(0.8480,0.8479) translate(-5.588235294117647,69.41176470588235)" font-size="100" fill="#000000" stroke="#fff" stroke-width="1.18" stroke-linejoin="round">20</text>
<text transform="translate(200.8,2655) rotate(-90) scale(0.8607,0.8665) translate(-8.588235294117647,69.41176470588235)" font-size="100" fill="#000000" stroke="#fff" stroke-width="1.16" stroke-linejoin="round">10</text>
<text transform="translate(207.4,2818.2) rotate(-90) scale(0.8436,0.8479) translate(-4.588235294117647,69.41176470588235)" font-size="100" fill="#000000" stroke="#fff" stroke-width="1.18" stroke-linejoin="round">0</text>
<text transform="translate(210.5,3289.5) rotate(-90) scale(0.8093,0.7920) translate(-5.588235294117647,69.41176470588235)" font-size="100" fill="#000000" stroke="#fff" stroke-width="1.25" stroke-linejoin="round">60</text>
<text transform="translate(210.5,3486.8) rotate(-90) scale(0.8525,0.7920) translate(-4.588235294117647,69.41176470588235)" font-size="100" fill="#000000" stroke="#fff" stroke-width="1.22" stroke-linejoin="round">50</text>
<text transform="translate(207.4,3640.8) rotate(-90) scale(0.8235,0.8479) translate(-2.588235294117647,69.41176470588235)" font-size="100" fill="#000000" stroke="#fff" stroke-width="1.20" stroke-linejoin="round">40</text>
<text transform="translate(207.4,3855.3) rotate(-90) scale(0.8534,0.8479) translate(-4.588235294117647,69.41176470588235)" font-size="100" fill="#000000" stroke="#fff" stroke-width="1.18" stroke-linejoin="round">30</text>
<text transform="translate(207.4,4039.5) rotate(-90) scale(0.8748,0.8479) translate(-5.588235294117647,69.41176470588235)" font-size="100" fill="#000000" stroke="#fff" stroke-width="1.16" stroke-linejoin="round">20</text>
<text transform="translate(200,4207.9) rotate(-90) scale(0.8883,0.8665) translate(-8.588235294117647,69.41176470588235)" font-size="100" fill="#000000" stroke="#fff" stroke-width="1.14" stroke-linejoin="round">10</text>
<text transform="translate(207.9,4368.4) rotate(-90) scale(0.8415,0.7920) translate(-4.588235294117647,69.41176470588235)" font-size="100" fill="#000000" stroke="#fff" stroke-width="1.22" stroke-linejoin="round">0</text>
<text transform="translate(340,1353) scale(0.8341,0.8092) translate(-4.588235294117647,69.41176470588235)" font-size="100" fill="#000000" stroke="#fff" stroke-width="1.22" stroke-linejoin="round">0.00</text>
<text transform="translate(726.3,1353) scale(0.8332,0.8092) translate(-4.588235294117647,69.41176470588235)" font-size="100" fill="#000000" stroke="#fff" stroke-width="1.22" stroke-linejoin="round">0.01</text>
<text transform="translate(1086.4,1353) scale(0.8305,0.8092) translate(-4.588235294117647,69.41176470588235)" font-size="100" fill="#000000" stroke="#fff" stroke-width="1.22" stroke-linejoin="round">0.02</text>
<text transform="translate(1493.6,1353) scale(0.8338,0.8092) translate(-4.588235294117647,69.41176470588235)" font-size="100" fill="#000000" stroke="#fff" stroke-width="1.22" stroke-linejoin="round">0.03</text>
<text transform="translate(1891.7,1353) scale(0.8200,0.8092) translate(-4.588235294117647,69.41176470588235)" font-size="100" fill="#000000" stroke="#fff" stroke-width="1.23" stroke-linejoin="round">0.04</text>
<text transform="translate(324.3,2929) scale(0.8395,0.8092) translate(-4.588235294117647,69.41176470588235)" font-size="100" fill="#000000" stroke="#fff" stroke-width="1.21" stroke-linejoin="round">0.00</text>
<text transform="translate(709,2929) scale(0.8413,0.8092) translate(-4.588235294117647,69.41176470588235)" font-size="100" fill="#000000" stroke="#fff" stroke-width="1.21" stroke-linejoin="round">0.01</text>
<text transform="translate(1070.9,2929) scale(0.8446,0.8092) translate(-4.588235294117647,69.41176470588235)" font-size="100" fill="#000000" stroke="#fff" stroke-width="1.21" stroke-linejoin="round">0.02</text>
<text transform="translate(1477.5,2929) scale(0.8343,0.8092) translate(-4.588235294117647,69.41176470588235)" font-size="100" fill="#000000" stroke="#fff" stroke-width="1.22" stroke-linejoin="round">0.03</text>
<text transform="translate(1871.9,2929) scale(0.8398,0.8092) translate(-4.588235294117647,69.41176470588235)" font-size="100" fill="#000000" stroke="#fff" stroke-width="1.21" stroke-linejoin="round">0.04</text>
<text transform="translate(323.7,4481.3) scale(0.8352,0.8163) translate(-4.588235294117647,69.41176470588235)" font-size="100" fill="#000000" stroke="#fff" stroke-width="1.21" stroke-linejoin="round">0.00</text>
<text transform="translate(708.4,4481.3) scale(0.8376,0.8163) translate(-4.588235294117647,69.41176470588235)" font-size="100" fill="#000000" stroke="#fff" stroke-width="1.21" stroke-linejoin="round">0.01</text>
<text transform="translate(1071.6,4481.3) scale(0.8370,0.8163) translate(-4.588235294117647,69.41176470588235)" font-size="100" fill="#000000" stroke="#fff" stroke-width="1.21" stroke-linejoin="round">0.02</text>
<text transform="translate(1476.4,4481.3) scale(0.8408,0.8163) translate(-4.588235294117647,69.41176470588235)" font-size="100" fill="#000000" stroke="#fff" stroke-width="1.21" stroke-linejoin="round">0.03</text>
<text transform="translate(1874.2,4481.3) scale(0.8339,0.8163) translate(-4.588235294117647,69.41176470588235)" font-size="100" fill="#000000" stroke="#fff" stroke-width="1.21" stroke-linejoin="round">0.04</text>
<text transform="translate(1337.5,1445.4) scale(0.7775,0.7283) translate(-1.5882352941176472,72.41176470588235)" font-size="100" fill="#222222" stroke="#fff" stroke-width="1.33" stroke-linejoin="round">)</text>
<text transform="translate(718.4,442.5) rotate(-78.4) scale(0.8718,0.8779) translate(-8.0,0)" font-size="100" fill="#c00000">R<tspan dy="-36" font-size="68">2</tspan><tspan dy="36">=0.35</tspan></text>
<text transform="translate(1684.7,322) rotate(-34.6) scale(0.8963,0.8642) translate(-8.0,0)" font-size="100" fill="#ff0000">R<tspan dy="-36" font-size="68">2</tspan><tspan dy="36">= 0.61</tspan></text>
<text transform="translate(794.7,1149.5) rotate(-29.6) scale(0.8946,0.8642) translate(-8.0,0)" font-size="100" fill="#1ff52a">R<tspan dy="-36" font-size="68">2</tspan><tspan dy="36">=0.46</tspan></text>
<text transform="translate(721.6,2017.9) rotate(-77.5) scale(0.8857,0.8848) translate(-8.0,0)" font-size="100" fill="#c00000">R<tspan dy="-36" font-size="68">2</tspan><tspan dy="36">=0.37</tspan></text>
<text transform="translate(1734.7,1874.4) rotate(-34.8) scale(0.8846,0.8573) translate(-8.0,0)" font-size="100" fill="#ff0000">R<tspan dy="-36" font-size="68">2</tspan><tspan dy="36">=0.61</tspan></text>
<text transform="translate(865,2691.2) rotate(-28.8) scale(0.9048,0.8656) translate(-8.0,0)" font-size="100" fill="#1ff52a">R<tspan dy="-36" font-size="68">2</tspan><tspan dy="36">= 0.43</tspan></text>
<text transform="translate(1712.1,3453.2) rotate(-33.5) scale(0.8889,0.8642) translate(-8.0,0)" font-size="100" fill="#ff0000">R<tspan dy="-36" font-size="68">2</tspan><tspan dy="36">= 0.61</tspan></text>
<text transform="translate(1657.8,917) scale(0.9675,0.9682) translate(-4.588235294117647,69.41176470588235)" font-size="100" fill="#1ff52a" stroke="#fff" stroke-width="1.03" stroke-linejoin="round">560</text>
<text transform="translate(1841.3,934.5) scale(0.9950,0.9371) translate(-7.588235294117647,53.411764705882355)" font-size="100" fill="#1ff52a" stroke="#fff" stroke-width="1.04" stroke-linejoin="round">nm</text>
<text transform="translate(1659.8,1043) scale(0.9488,0.9710) translate(-5.588235294117647,69.41176470588235)" font-size="100" fill="#ff0000" stroke="#fff" stroke-width="1.04" stroke-linejoin="round">655</text>
<text transform="translate(1841.6,1059.3) scale(0.9909,0.9390) translate(-7.588235294117647,53.411764705882355)" font-size="100" fill="#ff0000" stroke="#fff" stroke-width="1.04" stroke-linejoin="round">nm</text>
<text transform="translate(1658.7,1168.4) scale(0.9476,0.9481) translate(-4.588235294117647,69.41176470588235)" font-size="100" fill="#b00000" stroke="#fff" stroke-width="1.06" stroke-linejoin="round">864</text>
<text transform="translate(1841.6,1185) scale(0.9909,0.9125) translate(-7.588235294117647,53.411764705882355)" font-size="100" fill="#b00000" stroke="#fff" stroke-width="1.05" stroke-linejoin="round">nm</text>
<text transform="translate(1673,2490.3) scale(0.9447,0.9750) translate(-4.588235294117647,68.41176470588235)" font-size="100" fill="#1ff52a" stroke="#fff" stroke-width="1.04" stroke-linejoin="round">555</text>
<text transform="translate(1857.7,2507.5) scale(0.9869,0.9314) translate(-7.588235294117647,53.411764705882355)" font-size="100" fill="#1ff52a" stroke="#fff" stroke-width="1.04" stroke-linejoin="round">nm</text>
<text transform="translate(1674.5,2614.6) scale(0.9412,0.9710) translate(-5.588235294117647,69.41176470588235)" font-size="100" fill="#ff0000" stroke="#fff" stroke-width="1.05" stroke-linejoin="round">645</text>
<text transform="translate(1857.7,2632) scale(0.9869,0.9314) translate(-7.588235294117647,53.411764705882355)" font-size="100" fill="#ff0000" stroke="#fff" stroke-width="1.04" stroke-linejoin="round">nm</text>
<text transform="translate(1673.5,2740.5) scale(0.9476,0.9725) translate(-4.588235294117647,69.41176470588235)" font-size="100" fill="#b00000" stroke="#fff" stroke-width="1.04" stroke-linejoin="round">859</text>
<text transform="translate(1857.7,2756.4) scale(0.9869,0.9333) translate(-7.588235294117647,53.411764705882355)" font-size="100" fill="#b00000" stroke="#fff" stroke-width="1.04" stroke-linejoin="round">nm</text>
<text transform="translate(1653,4301.6) scale(0.9418,0.9510) translate(-5.588235294117647,69.41176470588235)" font-size="100" fill="#ff0000" stroke="#fff" stroke-width="1.06" stroke-linejoin="round">635</text>
<text transform="translate(1836.8,4317.5) scale(0.9820,0.9314) translate(-7.588235294117647,53.411764705882355)" font-size="100" fill="#ff0000" stroke="#fff" stroke-width="1.05" stroke-linejoin="round">nm</text>
<text transform="translate(974.8,1521.6) scale(0.6926,0.7901) translate(-8.62,0)" font-size="100" fill="#000000" stroke="#fff" stroke-width="1.35" stroke-linejoin="round">R</text><text transform="translate(1024.6,1521.6) scale(1.0358,0.7901) translate(-7.62,0)" font-size="100" fill="#000000" stroke="#fff" stroke-width="1.11" stroke-linejoin="round">r</text><text transform="translate(1052.7,1521.6) scale(0.6898,0.7901) translate(-3.62,0)" font-size="100" fill="#000000" stroke="#fff" stroke-width="1.35" stroke-linejoin="round">s</text><text transform="translate(1111.8,1458.7) scale(0.6687,0.8414) translate(-6.588235294117647,72.41176470588235)" font-size="100" fill="#000000" stroke="#fff" stroke-width="1.33" stroke-linejoin="round">(</text><text transform="translate(1137.1,1521.6) scale(0.6802,0.7901) translate(-3.62,0)" font-size="100" fill="#000000" stroke="#fff" stroke-width="1.36" stroke-linejoin="round">s</text><text transform="translate(1174.2,1521.6) scale(0.8000,0.7901) translate(-7.62,0)" font-size="100" fill="#000000" stroke="#fff" stroke-width="1.26" stroke-linejoin="round">r</text><text transform="translate(1194.7,1476.8) scale(0.7304,0.5862) translate(-4.588235294117647,30.41176470588235)" font-size="100" fill="#000000" stroke="#fff" stroke-width="1.53" stroke-linejoin="round">-</text><text transform="translate(1220,1456.3) scale(0.5284,0.5470) translate(-8.588235294117647,68.41176470588235)" font-size="100" fill="#000000" stroke="#fff" stroke-width="1.86" stroke-linejoin="round">1</text><text transform="translate(1252.4,1459.3) scale(0.6365,0.8349) translate(-1.5882352941176472,72.41176470588235)" font-size="100" fill="#000000" stroke="#fff" stroke-width="1.37" stroke-linejoin="round">)</text>
<text transform="translate(1030.6,3112.5) scale(0.6926,0.7901) translate(-8.62,0)" font-size="100" fill="#000000" stroke="#fff" stroke-width="1.35" stroke-linejoin="round">R</text><text transform="translate(1080.4,3112.5) scale(1.0358,0.7901) translate(-7.62,0)" font-size="100" fill="#000000" stroke="#fff" stroke-width="1.11" stroke-linejoin="round">r</text><text transform="translate(1108.5,3112.5) scale(0.6898,0.7901) translate(-3.62,0)" font-size="100" fill="#000000" stroke="#fff" stroke-width="1.35" stroke-linejoin="round">s</text><text transform="translate(1167.6,3049.6) scale(0.6687,0.8414) translate(-6.588235294117647,72.41176470588235)" font-size="100" fill="#000000" stroke="#fff" stroke-width="1.33" stroke-linejoin="round">(</text><text transform="translate(1192.9,3112.5) scale(0.6802,0.7901) translate(-3.62,0)" font-size="100" fill="#000000" stroke="#fff" stroke-width="1.36" stroke-linejoin="round">s</text><text transform="translate(1230,3112.5) scale(0.8000,0.7901) translate(-7.62,0)" font-size="100" fill="#000000" stroke="#fff" stroke-width="1.26" stroke-linejoin="round">r</text><text transform="translate(1250.5,3067.7) scale(0.7304,0.5862) translate(-4.588235294117647,30.41176470588235)" font-size="100" fill="#000000" stroke="#fff" stroke-width="1.53" stroke-linejoin="round">-</text><text transform="translate(1275.8,3047.2) scale(0.5284,0.5470) translate(-8.588235294117647,68.41176470588235)" font-size="100" fill="#000000" stroke="#fff" stroke-width="1.86" stroke-linejoin="round">1</text><text transform="translate(1308.2,3050.2) scale(0.6365,0.8349) translate(-1.5882352941176472,72.41176470588235)" font-size="100" fill="#000000" stroke="#fff" stroke-width="1.37" stroke-linejoin="round">)</text>
<text transform="translate(1035.4,4660.4) scale(0.6926,0.7901) translate(-8.62,0)" font-size="100" fill="#000000" stroke="#fff" stroke-width="1.35" stroke-linejoin="round">R</text><text transform="translate(1085.2,4660.4) scale(1.0358,0.7901) translate(-7.62,0)" font-size="100" fill="#000000" stroke="#fff" stroke-width="1.11" stroke-linejoin="round">r</text><text transform="translate(1113.3,4660.4) scale(0.6898,0.7901) translate(-3.62,0)" font-size="100" fill="#000000" stroke="#fff" stroke-width="1.35" stroke-linejoin="round">s</text><text transform="translate(1172.4,4597.5) scale(0.6687,0.8414) translate(-6.588235294117647,72.41176470588235)" font-size="100" fill="#000000" stroke="#fff" stroke-width="1.33" stroke-linejoin="round">(</text><text transform="translate(1197.7,4660.4) scale(0.6802,0.7901) translate(-3.62,0)" font-size="100" fill="#000000" stroke="#fff" stroke-width="1.36" stroke-linejoin="round">s</text><text transform="translate(1234.8,4660.4) scale(0.8000,0.7901) translate(-7.62,0)" font-size="100" fill="#000000" stroke="#fff" stroke-width="1.26" stroke-linejoin="round">r</text><text transform="translate(1255.3,4615.6) scale(0.7304,0.5862) translate(-4.588235294117647,30.41176470588235)" font-size="100" fill="#000000" stroke="#fff" stroke-width="1.53" stroke-linejoin="round">-</text><text transform="translate(1280.6,4595.1) scale(0.5284,0.5470) translate(-8.588235294117647,68.41176470588235)" font-size="100" fill="#000000" stroke="#fff" stroke-width="1.86" stroke-linejoin="round">1</text><text transform="translate(1313,4598.1) scale(0.6365,0.8349) translate(-1.5882352941176472,72.41176470588235)" font-size="100" fill="#000000" stroke="#fff" stroke-width="1.37" stroke-linejoin="round">)</text>
<text transform="translate(167.2,898.7) rotate(-90) scale(0.6314,0.8011) translate(-5.62,0)" font-size="100" fill="#000000" stroke="#fff" stroke-width="1.41" stroke-linejoin="round">S</text><text transform="translate(167.2,855.3) rotate(-90) scale(0.6995,0.8011) translate(-8.62,0)" font-size="100" fill="#000000" stroke="#fff" stroke-width="1.34" stroke-linejoin="round">P</text><text transform="translate(167.2,807.5) rotate(-90) scale(0.9460,0.8011) translate(-8.62,0)" font-size="100" fill="#000000" stroke="#fff" stroke-width="1.15" stroke-linejoin="round">M</text><text transform="translate(103,709.4) rotate(-90) scale(0.6607,0.8575) translate(-6.588235294117647,72.41176470588235)" font-size="100" fill="#000000" stroke="#fff" stroke-width="1.33" stroke-linejoin="round">(</text><text transform="translate(167.2,684.3) rotate(-90) scale(0.8594,0.8011) translate(-4.62,0)" font-size="100" fill="#000000" stroke="#fff" stroke-width="1.21" stroke-linejoin="round">g</text><text transform="translate(167.2,637.5) rotate(-90) scale(1.0514,0.8011) translate(-9.62,0)" font-size="100" fill="#000000" stroke="#fff" stroke-width="1.09" stroke-linejoin="round">.</text><text transform="translate(167.2,615.2) rotate(-90) scale(0.8698,0.8011) translate(-7.62,0)" font-size="100" fill="#000000" stroke="#fff" stroke-width="1.20" stroke-linejoin="round">m</text><text transform="translate(120.9,547.7) rotate(-90) scale(0.6086,0.9086) translate(-4.588235294117647,30.41176470588235)" font-size="100" fill="#000000" stroke="#fff" stroke-width="1.34" stroke-linejoin="round">-</text><text transform="translate(99.6,527.9) rotate(-90) scale(0.5259,0.5743) translate(-4.588235294117647,69.41176470588235)" font-size="100" fill="#000000" stroke="#fff" stroke-width="1.82" stroke-linejoin="round">3</text><text transform="translate(103,493.6) rotate(-90) scale(0.6607,0.8575) translate(-1.5882352941176472,72.41176470588235)" font-size="100" fill="#000000" stroke="#fff" stroke-width="1.33" stroke-linejoin="round">)</text>
<text transform="translate(149.2,2440.9) rotate(-90) scale(0.6314,0.8011) translate(-5.62,0)" font-size="100" fill="#000000" stroke="#fff" stroke-width="1.41" stroke-linejoin="round">S</text><text transform="translate(149.2,2397.5) rotate(-90) scale(0.6995,0.8011) translate(-8.62,0)" font-size="100" fill="#000000" stroke="#fff" stroke-width="1.34" stroke-linejoin="round">P</text><text transform="translate(149.2,2349.7) rotate(-90) scale(0.9460,0.8011) translate(-8.62,0)" font-size="100" fill="#000000" stroke="#fff" stroke-width="1.15" stroke-linejoin="round">M</text><text transform="translate(85,2251.6) rotate(-90) scale(0.6607,0.8575) translate(-6.588235294117647,72.41176470588235)" font-size="100" fill="#000000" stroke="#fff" stroke-width="1.33" stroke-linejoin="round">(</text><text transform="translate(149.2,2226.5) rotate(-90) scale(0.8594,0.8011) translate(-4.62,0)" font-size="100" fill="#000000" stroke="#fff" stroke-width="1.21" stroke-linejoin="round">g</text><text transform="translate(149.2,2179.7) rotate(-90) scale(1.0514,0.8011) translate(-9.62,0)" font-size="100" fill="#000000" stroke="#fff" stroke-width="1.09" stroke-linejoin="round">.</text><text transform="translate(149.2,2157.4) rotate(-90) scale(0.8698,0.8011) translate(-7.62,0)" font-size="100" fill="#000000" stroke="#fff" stroke-width="1.20" stroke-linejoin="round">m</text><text transform="translate(102.9,2089.9) rotate(-90) scale(0.6086,0.9086) translate(-4.588235294117647,30.41176470588235)" font-size="100" fill="#000000" stroke="#fff" stroke-width="1.34" stroke-linejoin="round">-</text><text transform="translate(81.6,2070.1) rotate(-90) scale(0.5259,0.5743) translate(-4.588235294117647,69.41176470588235)" font-size="100" fill="#000000" stroke="#fff" stroke-width="1.82" stroke-linejoin="round">3</text><text transform="translate(85,2035.8) rotate(-90) scale(0.6607,0.8575) translate(-1.5882352941176472,72.41176470588235)" font-size="100" fill="#000000" stroke="#fff" stroke-width="1.33" stroke-linejoin="round">)</text>
<text transform="translate(149.2,4034.7) rotate(-90) scale(0.6314,0.8011) translate(-5.62,0)" font-size="100" fill="#000000" stroke="#fff" stroke-width="1.41" stroke-linejoin="round">S</text><text transform="translate(149.2,3991.3) rotate(-90) scale(0.6995,0.8011) translate(-8.62,0)" font-size="100" fill="#000000" stroke="#fff" stroke-width="1.34" stroke-linejoin="round">P</text><text transform="translate(149.2,3943.5) rotate(-90) scale(0.9460,0.8011) translate(-8.62,0)" font-size="100" fill="#000000" stroke="#fff" stroke-width="1.15" stroke-linejoin="round">M</text><text transform="translate(85,3845.4) rotate(-90) scale(0.6607,0.8575) translate(-6.588235294117647,72.41176470588235)" font-size="100" fill="#000000" stroke="#fff" stroke-width="1.33" stroke-linejoin="round">(</text><text transform="translate(149.2,3820.3) rotate(-90) scale(0.8594,0.8011) translate(-4.62,0)" font-size="100" fill="#000000" stroke="#fff" stroke-width="1.21" stroke-linejoin="round">g</text><text transform="translate(149.2,3773.5) rotate(-90) scale(1.0514,0.8011) translate(-9.62,0)" font-size="100" fill="#000000" stroke="#fff" stroke-width="1.09" stroke-linejoin="round">.</text><text transform="translate(149.2,3751.2) rotate(-90) scale(0.8698,0.8011) translate(-7.62,0)" font-size="100" fill="#000000" stroke="#fff" stroke-width="1.20" stroke-linejoin="round">m</text><text transform="translate(102.9,3683.7) rotate(-90) scale(0.6086,0.9086) translate(-4.588235294117647,30.41176470588235)" font-size="100" fill="#000000" stroke="#fff" stroke-width="1.34" stroke-linejoin="round">-</text><text transform="translate(81.6,3663.9) rotate(-90) scale(0.5259,0.5743) translate(-4.588235294117647,69.41176470588235)" font-size="100" fill="#000000" stroke="#fff" stroke-width="1.82" stroke-linejoin="round">3</text><text transform="translate(85,3629.6) rotate(-90) scale(0.6607,0.8575) translate(-1.5882352941176472,72.41176470588235)" font-size="100" fill="#000000" stroke="#fff" stroke-width="1.33" stroke-linejoin="round">)</text>
</svg>
</body></html>
